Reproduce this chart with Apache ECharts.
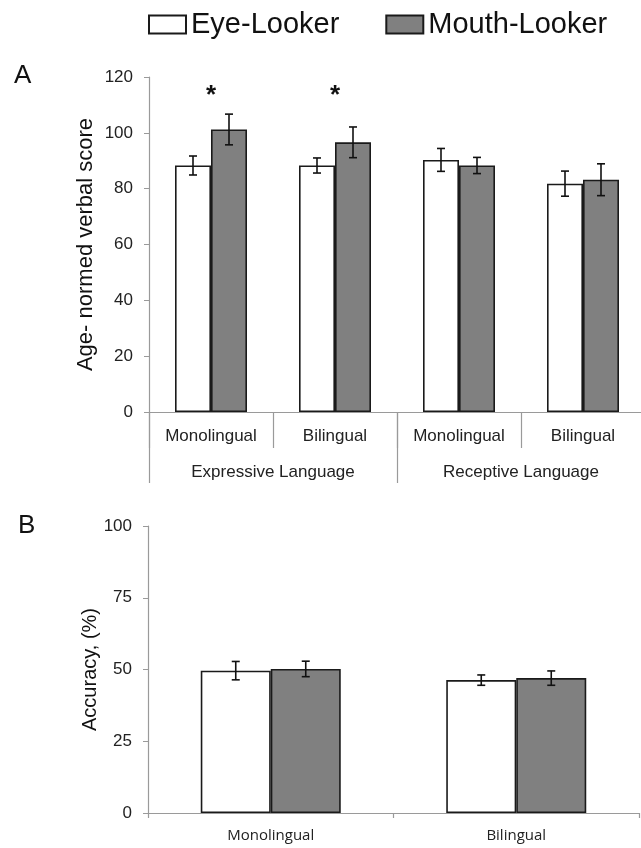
<!DOCTYPE html>
<html>
<head>
<meta charset="utf-8">
<script src="https://cdn.jsdelivr.net/npm/echarts@6/dist/echarts.min.js"></script>
<style>
  html, body { margin: 0; padding: 0; background: #fff; }
  #chart { width: 641px; height: 848px; }
</style>
</head>
<body>
<div id="chart"></div>
<script>
// panel A: verbal score by group
var catsA = ['Monolingual', 'Bilingual', 'Monolingual', 'Bilingual']
var domainsA = ['Expressive Language', 'Receptive Language']
var eyeA = [88.3, 88.3, 90.3, 81.8]
var eyeErrA = [3.4, 2.7, 4.1, 4.5]
var mouthA = [101.2, 96.6, 88.3, 83.2]
var mouthErrA = [5.5, 5.5, 2.9, 5.7]
var starIdxA = [0, 1]
var starLevelA = 114

// panel B: accuracy
var catsB = ['Monolingual', 'Bilingual']
var eyeB = [49.6, 46.3]
var eyeErrB = [3.2, 1.8]
var mouthB = [50.2, 47.0]
var mouthErrB = [2.7, 2.5]

var sans = 'Liberation Sans, Arial, sans-serif'
var axisGrey = '#9a9a9a'

function errData (means, errs) {
  var out = []
  for (var i = 0; i < means.length; i++) {
    out.push([i, means[i], errs[i]])
  }
  return out
}

// draws a vertical error bar shifted sideways by dx pixels
function errRender (dx) {
  return function (params, api) {
    var c = api.value(0)
    var m = api.value(1)
    var e = api.value(2)
    var hi = api.coord([c, m + e])
    var lo = api.coord([c, m - e])
    var x = hi[0] + dx
    var st = { stroke: '#111', lineWidth: 1.6 }
    return {
      type: 'group',
      children: [
        { type: 'line', shape: { x1: x, y1: hi[1], x2: x, y2: lo[1] }, style: st },
        { type: 'line', shape: { x1: x - 4, y1: hi[1], x2: x + 4, y2: hi[1] }, style: st },
        { type: 'line', shape: { x1: x - 4, y1: lo[1], x2: x + 4, y2: lo[1] }, style: st }
      ]
    }
  }
}

function starRender (params, api) {
  var p = api.coord([api.value(0), api.value(1)])
  return {
    type: 'text',
    x: p[0],
    y: p[1] + 2,
    style: { text: '*', font: 'bold 26px ' + sans, fill: '#111', align: 'center', verticalAlign: 'middle' }
  }
}

var whiteStyle = { color: '#ffffff', borderColor: '#1a1a1a', borderWidth: 1.6 }
var greyStyle = { color: '#808080', borderColor: '#1a1a1a', borderWidth: 1.6 }

var barWA = 36
var barWB = 70

var chart = echarts.init(document.getElementById('chart'))
chart.setOption({
  animation: false,
  backgroundColor: '#fff',
  legend: {
    data: ['Eye-Looker', 'Mouth-Looker'],
    left: 143,
    top: 5,
    itemWidth: 37,
    itemHeight: 18,
    itemGap: 46,
    icon: 'rect',
    textStyle: { fontSize: 29, fontFamily: sans, color: '#111' }
  },
  graphic: [
    { type: 'text', left: 14, top: 63, style: { text: 'A', font: '26px ' + sans, fill: '#111' } },
    { type: 'text', left: 18, top: 513, style: { text: 'B', font: '26px ' + sans, fill: '#111' } }
  ],
  grid: [
    { left: 149, top: 77, width: 496, height: 335, outerBoundsMode: 'none' },
    { left: 148, top: 526, width: 491, height: 287, outerBoundsMode: 'none' }
  ],
  xAxis: [
    {
      gridIndex: 0, type: 'category', position: 'bottom', data: catsA,
      axisLine: { lineStyle: { color: axisGrey, width: 1.2 } },
      axisTick: { show: true, interval: 0, alignWithLabel: false, length: 36, lineStyle: { color: axisGrey, width: 1.2 } },
      axisLabel: { interval: 0, margin: 16, fontSize: 17, fontFamily: sans, color: '#222' }
    },
    {
      gridIndex: 0, type: 'category', position: 'bottom', data: domainsA,
      axisLine: { show: false },
      axisTick: { show: true, interval: 0, alignWithLabel: false, length: 71, lineStyle: { color: axisGrey, width: 1.2 } },
      axisLabel: { interval: 0, margin: 52, fontSize: 17, fontFamily: sans, color: '#222' }
    },
    {
      gridIndex: 1, type: 'category', data: catsB,
      axisLine: { lineStyle: { color: axisGrey, width: 1.2 } },
      axisTick: { show: true, interval: 0, alignWithLabel: false, length: 5, lineStyle: { color: axisGrey, width: 1.2 } },
      axisLabel: { interval: 0, margin: 15, fontSize: 15, fontFamily: 'Open Sans, sans-serif', color: '#222' }
    }
  ],
  yAxis: [
    {
      gridIndex: 0, type: 'value', min: 0, max: 120, interval: 20,
      name: 'Age- normed verbal score', nameLocation: 'middle', nameGap: 52, nameMoveOverlap: false,
      nameTextStyle: { fontSize: 22, fontFamily: sans, color: '#111' },
      axisLine: { show: true, lineStyle: { color: axisGrey, width: 1.2 } },
      axisTick: { show: true, length: 5, lineStyle: { color: axisGrey } },
      splitLine: { show: false },
      axisLabel: { margin: 16, fontSize: 17, fontFamily: sans, color: '#222' }
    },
    {
      gridIndex: 1, type: 'value', min: 0, max: 100, interval: 25,
      name: 'Accuracy, (%)', nameLocation: 'middle', nameGap: 48, nameMoveOverlap: false,
      nameTextStyle: { fontSize: 20, fontFamily: sans, color: '#111' },
      axisLine: { show: true, lineStyle: { color: axisGrey, width: 1.2 } },
      axisTick: { show: true, length: 5, lineStyle: { color: axisGrey } },
      splitLine: { show: false },
      axisLabel: { margin: 16, fontSize: 17, fontFamily: sans, color: '#222' }
    }
  ],
  series: [
    { name: 'Eye-Looker', type: 'bar', xAxisIndex: 0, yAxisIndex: 0, data: eyeA, barWidth: barWA, barGap: '0%', itemStyle: whiteStyle },
    { name: 'Mouth-Looker', type: 'bar', xAxisIndex: 0, yAxisIndex: 0, data: mouthA, barWidth: barWA, barGap: '0%', itemStyle: greyStyle },
    { type: 'custom', xAxisIndex: 0, yAxisIndex: 0, data: errData(eyeA, eyeErrA), renderItem: errRender(-barWA / 2), z: 5 },
    { type: 'custom', xAxisIndex: 0, yAxisIndex: 0, data: errData(mouthA, mouthErrA), renderItem: errRender(barWA / 2), z: 5 },
    { type: 'custom', xAxisIndex: 0, yAxisIndex: 0, data: starIdxA.map(function (i) { return [i, starLevelA] }), renderItem: starRender, z: 5 },
    { name: 'Eye-Looker', type: 'bar', xAxisIndex: 2, yAxisIndex: 1, data: eyeB, barWidth: barWB, barGap: '0%', itemStyle: whiteStyle },
    { name: 'Mouth-Looker', type: 'bar', xAxisIndex: 2, yAxisIndex: 1, data: mouthB, barWidth: barWB, barGap: '0%', itemStyle: greyStyle },
    { type: 'custom', xAxisIndex: 2, yAxisIndex: 1, data: errData(eyeB, eyeErrB), renderItem: errRender(-barWB / 2), z: 5 },
    { type: 'custom', xAxisIndex: 2, yAxisIndex: 1, data: errData(mouthB, mouthErrB), renderItem: errRender(barWB / 2), z: 5 }
  ]
})
</script>
</body>
</html>
